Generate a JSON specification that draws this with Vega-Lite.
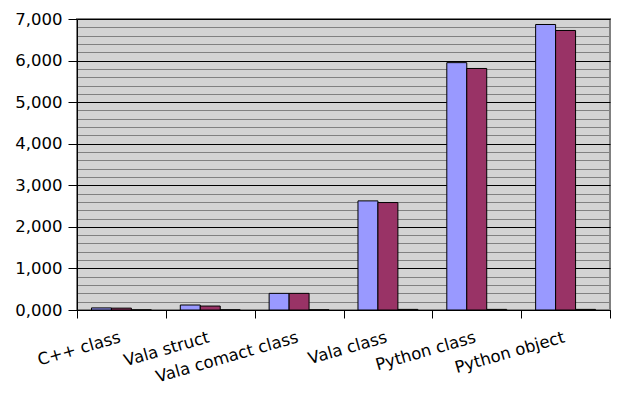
{
  "$schema": "https://vega.github.io/schema/vega-lite/v6.json",
  "width": 533,
  "height": 291,
  "autosize": {"type": "none"},
  "padding": {"left": 77, "top": 19, "right": 9, "bottom": 83},
  "background": "white",
  "data": {
    "values": [
      {"cat": "C++ class", "series": "A", "value": 50},
      {"cat": "C++ class", "series": "B", "value": 45},
      {"cat": "C++ class", "series": "C", "value": 2},
      {"cat": "Vala struct", "series": "A", "value": 120},
      {"cat": "Vala struct", "series": "B", "value": 95},
      {"cat": "Vala struct", "series": "C", "value": 3},
      {"cat": "Vala comact class", "series": "A", "value": 400},
      {"cat": "Vala comact class", "series": "B", "value": 400},
      {"cat": "Vala comact class", "series": "C", "value": 5},
      {"cat": "Vala class", "series": "A", "value": 2625},
      {"cat": "Vala class", "series": "B", "value": 2585},
      {"cat": "Vala class", "series": "C", "value": 15},
      {"cat": "Python class", "series": "A", "value": 5950},
      {"cat": "Python class", "series": "B", "value": 5810},
      {"cat": "Python class", "series": "C", "value": 15},
      {"cat": "Python object", "series": "A", "value": 6868},
      {"cat": "Python object", "series": "B", "value": 6724},
      {"cat": "Python object", "series": "C", "value": 15}
    ]
  },
  "mark": {"type": "bar", "stroke": "black", "strokeWidth": 1},
  "encoding": {
    "x": {
      "field": "cat",
      "type": "nominal",
      "sort": null,
      "title": null,
      "scale": {"paddingInner": 0, "paddingOuter": 0},
      "axis": {
        "ticks": true,
        "tickBand": "extent",
        "labelAngle": -16,
        "labelFontSize": 16.5,
        "labelPadding": 11,
        "labelOffset": -4,
        "tickSize": 8,
        "tickWidth": 1,
        "tickColor": "black",
        "domainColor": "black",
        "labelColor": "black",
        "labelAlign": "right",
        "labelBaseline": "top"
      }
    },
    "xOffset": {
      "field": "series",
      "type": "nominal",
      "scale": {"paddingInner": 0, "paddingOuter": 0.725}
    },
    "y": {
      "field": "value",
      "type": "quantitative",
      "title": null,
      "scale": {"domain": [0, 7000], "nice": false},
      "axis": {
        "values": [0, 200, 400, 600, 800, 1000, 1200, 1400, 1600, 1800, 2000, 2200, 2400, 2600, 2800, 3000, 3200, 3400, 3600, 3800, 4000, 4200, 4400, 4600, 4800, 5000, 5200, 5400, 5600, 5800, 6000, 6200, 6400, 6600, 6800, 7000],
        "grid": true,
        "gridColor": {"condition": {"test": "datum.value % 1000 === 0", "value": "black"}, "value": "#808080"},
        "gridOpacity": 1,
        "tickOpacity": {"condition": {"test": "datum.value % 1000 === 0", "value": 1}, "value": 0},
        "tickColor": "black",
        "tickSize": 9,
        "labelExpr": "datum.value % 1000 === 0 ? (datum.value === 0 ? '0,000' : format(datum.value, ',')) : ''",
        "labelFontSize": 16.5,
        "labelPadding": 6,
        "labelColor": "black",
        "domainColor": "black"
      }
    },
    "color": {
      "field": "series",
      "type": "nominal",
      "legend": null,
      "scale": {"domain": ["A", "B", "C"], "range": ["#9999FF", "#993366", "#FFFFCC"]}
    }
  },
  "config": {
    "font": "DejaVu Sans",
    "view": {"fill": "#D3D3D3", "stroke": "#808080", "strokeWidth": 2}
  }
}
